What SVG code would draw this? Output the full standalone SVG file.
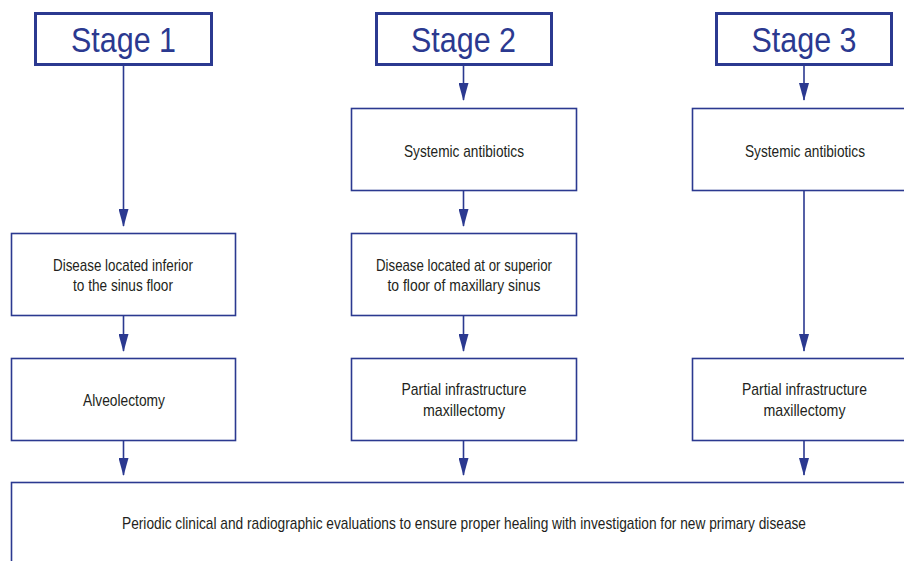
<svg xmlns="http://www.w3.org/2000/svg" width="904" height="561" viewBox="0 0 904 561">
<style>
.hdr{fill:#fff;stroke:#2b3990;stroke-width:3}
.box{fill:#fff;stroke:#2b3990;stroke-width:1.6}
.st{font-family:"Liberation Sans",Arial,sans-serif;font-size:35px;fill:#2b3990;text-anchor:middle}
.t{font-family:"Liberation Sans",Arial,sans-serif;font-size:17px;fill:#231f20;text-anchor:middle}
.c line{stroke:#2b3990;stroke-width:1.6;marker-end:url(#ah)}
</style>
<defs>
<marker id="ah" viewBox="0 0 18 10" refX="17" refY="5" markerWidth="18" markerHeight="10" markerUnits="userSpaceOnUse" orient="auto">
<path d="M0,0 L18,5 L0,10 z" fill="#2b3990"/>
</marker>
</defs>
<rect width="904" height="561" fill="#fff"/>
<g class="c" id="connectors">
<line x1="123.5" y1="65" x2="123.5" y2="226"/>
<line x1="123.5" y1="315" x2="123.5" y2="351"/>
<line x1="123.5" y1="440" x2="123.5" y2="475"/>
<line x1="463.5" y1="65" x2="463.5" y2="100"/>
<line x1="463.5" y1="190" x2="463.5" y2="226"/>
<line x1="463.5" y1="315" x2="463.5" y2="351"/>
<line x1="463.5" y1="440" x2="463.5" y2="475"/>
<line x1="804" y1="65" x2="804" y2="100"/>
<line x1="804" y1="190" x2="804" y2="351"/>
<line x1="804" y1="440" x2="804" y2="475"/>
</g>
<g id="stage1"><rect class="hdr" x="35.5" y="13.5" width="176" height="51"/><text class="st" x="123.5" y="52" textLength="105" lengthAdjust="spacingAndGlyphs">Stage 1</text></g>
<g id="stage2"><rect class="hdr" x="376.5" y="13.5" width="175" height="51"/><text class="st" x="463.5" y="52" textLength="105" lengthAdjust="spacingAndGlyphs">Stage 2</text></g>
<g id="stage3"><rect class="hdr" x="716.5" y="13.5" width="175" height="51"/><text class="st" x="804" y="52" textLength="105" lengthAdjust="spacingAndGlyphs">Stage 3</text></g>
<g id="abx2"><rect class="box" x="351.5" y="108.5" width="225" height="82"/><text class="t" x="464" y="157" textLength="120" lengthAdjust="spacingAndGlyphs">Systemic antibiotics</text></g>
<g id="abx3"><rect class="box" x="692.5" y="108.5" width="225" height="82"/><text class="t" x="805" y="157" textLength="120" lengthAdjust="spacingAndGlyphs">Systemic antibiotics</text></g>
<g id="dis1"><rect class="box" x="11.5" y="233.5" width="224" height="82"/><text class="t" x="123" y="271" textLength="140" lengthAdjust="spacingAndGlyphs">Disease located inferior</text><text class="t" x="123" y="291" textLength="100" lengthAdjust="spacingAndGlyphs">to the sinus floor</text></g>
<g id="dis2"><rect class="box" x="351.5" y="233.5" width="225" height="82"/><text class="t" x="464" y="271" textLength="176" lengthAdjust="spacingAndGlyphs">Disease located at or superior</text><text class="t" x="464" y="291" textLength="153" lengthAdjust="spacingAndGlyphs">to floor of maxillary sinus</text></g>
<g id="alv1"><rect class="box" x="11.5" y="358.5" width="224" height="82"/><text class="t" x="124" y="406" textLength="82" lengthAdjust="spacingAndGlyphs">Alveolectomy</text></g>
<g id="max2"><rect class="box" x="351.5" y="358.5" width="225" height="82"/><text class="t" x="464" y="395" textLength="125" lengthAdjust="spacingAndGlyphs">Partial infrastructure</text><text class="t" x="464" y="416" textLength="82" lengthAdjust="spacingAndGlyphs">maxillectomy</text></g>
<g id="max3"><rect class="box" x="692.5" y="358.5" width="225" height="82"/><text class="t" x="804.5" y="395" textLength="125" lengthAdjust="spacingAndGlyphs">Partial infrastructure</text><text class="t" x="804.5" y="416" textLength="82" lengthAdjust="spacingAndGlyphs">maxillectomy</text></g>
<g id="eval"><rect class="box" x="11.5" y="482.5" width="910" height="100"/><text class="t" x="464" y="529" textLength="684" lengthAdjust="spacingAndGlyphs">Periodic clinical and radiographic evaluations to ensure proper healing with investigation for new primary disease</text></g>
</svg>
